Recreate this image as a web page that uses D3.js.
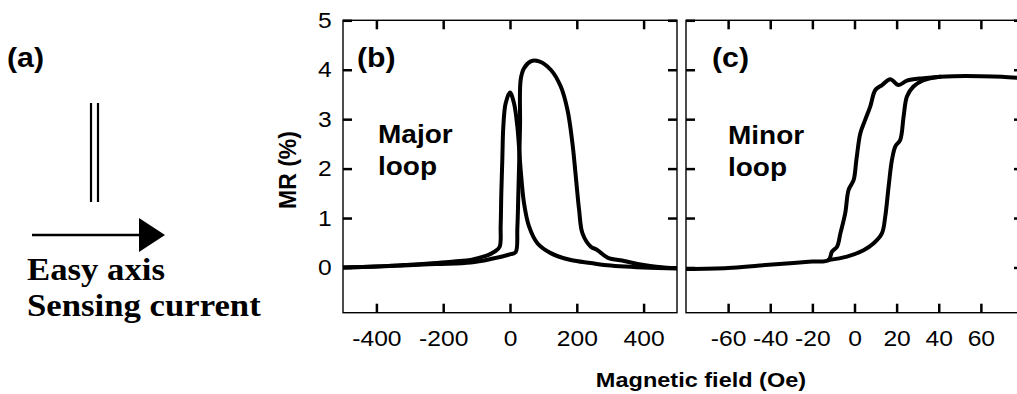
<!DOCTYPE html>
<html lang="en">
<head>
    <meta charset="UTF-8">
    <title>MR major and minor loops</title>
    <script src="https://cdnjs.cloudflare.com/ajax/libs/d3/7.8.5/d3.min.js"></script>
    <style>
        body { margin: 0; background: #fff; }
        svg { display: block; background: #fff; }
        .frame { fill: none; stroke: #000; stroke-width: 1.4; }
        .tick line { stroke: #000; stroke-width: 2.5; }
        .domain { display: none; }
        .curve { fill: none; stroke: #000; stroke-width: 4; stroke-linejoin: round; stroke-linecap: round; }
        .sans { font-family: "Liberation Sans", Arial, sans-serif; font-weight: bold; fill: #000; }
        .serif { font-family: "Liberation Serif", "Times New Roman", serif; font-weight: bold; fill: #000; }
    </style>
</head>
<body>
<svg width="1017" height="394"></svg>
<script>
    // (b) major loop, field in Oe, MR in %
    const majorUpField = [-500, -400, -318, -220, -118, -58, 2, 17, 22, 25, 30, 32, 42, 62, 87, 122, 152, 172, 187, 197, 207, 217, 242, 260, 292, 342, 382, 420, 482, 500];
    const majorUpMR = [0, 0.02, 0.04, 0.07, 0.10, 0.17, 0.27, 0.31, 0.8, 1.5, 2.85, 3.8, 4.03, 4.17, 4.17, 4.0, 3.66, 3.19, 2.51, 1.84, 1.16, 0.69, 0.42, 0.36, 0.20, 0.13, 0.07, 0.03, -0.01, -0.01];
    const majorDownField = [-500, -400, -318, -220, -168, -118, -96, -66, -46, -31, -28, -26, -23, -20, -13, 0, 12, 22, 32, 42, 57, 82, 122, 182, 242, 282, 400, 500];
    const majorDownMR = [0, 0.02, 0.05, 0.09, 0.12, 0.15, 0.19, 0.25, 0.32, 0.42, 0.83, 1.50, 2.18, 2.85, 3.32, 3.54, 3.32, 2.85, 1.97, 1.30, 0.83, 0.49, 0.29, 0.15, 0.09, 0.05, 0.0, -0.02];

    // (c) minor loop
    const minorLeftField = [-80, -60, -45, -29, -20, -12.3, -10.7, -8.3, -6.7, -4.4, -2.8, -0.4, 0.9, 2.8, 5.1, 7.5, 9.9, 13.1, 17, 20.9, 24.9, 32.8, 40.7, 47, 60, 70, 80];
    const minorLeftMR = [-0.03, -0.01, 0.04, 0.09, 0.12, 0.15, 0.32, 0.42, 0.69, 1.10, 1.57, 1.77, 2.18, 2.72, 2.99, 3.26, 3.59, 3.69, 3.81, 3.69, 3.78, 3.83, 3.86, 3.87, 3.87, 3.86, 3.83];
    const minorRightField = [-12.3, -3.6, 4.3, 9.1, 13, 14.6, 16.2, 17.8, 19.4, 21.7, 23.3, 24.9, 28, 32.8, 40.7];
    const minorRightMR = [0.15, 0.22, 0.35, 0.49, 0.69, 1.03, 1.64, 2.18, 2.45, 2.58, 3.05, 3.46, 3.66, 3.79, 3.86];

    // ticks
    const mrTicks = [0, 1, 2, 3, 4, 5];
    const majorTicks = [-400, -200, 0, 200, 400];
    const minorTicks = [-60, -40, -20, 0, 20, 40, 60];

    const sx = 1.12;  // the scanned figure is a bit wider than tall
    const svg = d3.select("svg");

    function stretchText(parent, x, y, str, cls, size, anchor) {
        return parent.append("text")
            .attr("class", cls)
            .attr("transform", `translate(${x},${y}) scale(${sx},1)`)
            .attr("font-size", size)
            .attr("text-anchor", anchor || "start")
            .text(str);
    }

    const yTop = 20.3, yBottom = 312.7;
    const y = d3.scaleLinear().domain([-0.915, 5]).range([yBottom, yTop]);

    function panel(id, x, xTicks, curves, showY) {
        const [x0, x1] = x.range();
        const g = svg.append("g");

        g.append("clipPath").attr("id", id)
            .append("rect").attr("x", x0).attr("y", yTop).attr("width", x1 - x0).attr("height", yBottom - yTop);

        const fmt = d => String(d);
        g.append("g").attr("transform", `translate(0,${yBottom})`)
            .call(d3.axisBottom(x).tickValues(xTicks).tickSize(-9).tickSizeOuter(0).tickPadding(18).tickFormat(fmt));
        g.append("g").attr("transform", `translate(0,${yTop})`)
            .call(d3.axisTop(x).tickValues(xTicks).tickSize(-9).tickSizeOuter(0).tickFormat(""));
        g.append("g").attr("transform", `translate(${x0},0)`)
            .call(d3.axisLeft(y).tickValues(mrTicks).tickSize(-9).tickSizeOuter(0).tickPadding(10)
                .tickFormat(showY ? fmt : ""));
        g.append("g").attr("transform", `translate(${x1},0)`)
            .call(d3.axisRight(y).tickValues(mrTicks).tickSize(-9).tickSizeOuter(0).tickFormat(""));
        g.selectAll(".tick text")
            .attr("transform", `scale(${sx},1)`)
            .style("font-family", '"Liberation Sans", Arial, sans-serif')
            .style("font-size", "22px")
            .attr("fill", "#000");

        g.append("rect").attr("class", "frame")
            .attr("x", x0).attr("y", yTop).attr("width", x1 - x0).attr("height", yBottom - yTop);

        const line = d3.line().x(d => x(d[0])).y(d => y(d[1])).curve(d3.curveCatmullRom.alpha(0.5));
        curves.forEach(([fs, ms]) => {
            g.append("path").attr("class", "curve")
                .attr("clip-path", `url(#${id})`)
                .attr("d", line(d3.zip(fs, ms)));
        });
        return g;
    }

    const xMajor = d3.scaleLinear().domain([-500, 500]).range([343, 677]);
    const xMinor = d3.scaleLinear().domain([-80, 80]).range([686, 1023]);

    panel("clipB", xMajor, majorTicks, [[majorUpField, majorUpMR], [majorDownField, majorDownMR]], true);
    panel("clipC", xMinor, minorTicks, [[minorLeftField, minorLeftMR], [minorRightField, minorRightMR]], false);

    // panel labels
    stretchText(svg, 357, 67, "(b)", "sans", 27);
    stretchText(svg, 378, 143, "Major", "sans", 25);
    stretchText(svg, 378, 175, "loop", "sans", 25);
    stretchText(svg, 712, 67, "(c)", "sans", 27);
    stretchText(svg, 728, 144, "Minor", "sans", 25);
    stretchText(svg, 728, 176, "loop", "sans", 25);

    // axis titles
    svg.append("text").attr("class", "sans")
        .attr("transform", "translate(296,170) rotate(-90)")
        .attr("font-size", 23).attr("text-anchor", "middle")
        .text("MR (%)");
    stretchText(svg, 701, 387, "Magnetic field (Oe)", "sans", 21, "middle");

    // (a) sketch: stripe, easy axis arrow
    const a = svg.append("g");
    stretchText(a, 7, 67, "(a)", "sans", 27);
    [91, 98].forEach(xx => a.append("line")
        .attr("x1", xx).attr("x2", xx).attr("y1", 103).attr("y2", 202)
        .attr("stroke", "#000").attr("stroke-width", 2.2));
    a.append("line").attr("x1", 32).attr("x2", 142).attr("y1", 235).attr("y2", 235)
        .attr("stroke", "#000").attr("stroke-width", 2.4);
    a.append("path").attr("d", "M139,218 L165,235 L139,252 Z").attr("fill", "#000");
    stretchText(a, 27, 280, "Easy axis", "serif", 31);
    stretchText(a, 27, 316, "Sensing current", "serif", 31);
</script>
</body>
</html>
